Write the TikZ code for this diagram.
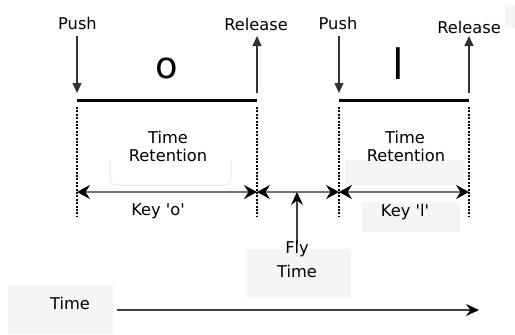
\documentclass[tikz,border=0pt]{standalone}
\usepackage{fontspec}
\setmainfont{DejaVu Sans}[Ligatures=TeXOff]
\usetikzlibrary{arrows.meta}
\begin{document}
\begin{tikzpicture}[x=1bp,y=-1bp,
  lbl/.style={font=\fontsize{16.3}{18}\selectfont, inner sep=0pt, anchor=base},
  keyglyph/.style={font=\fontsize{#1}{#1}\selectfont, inner sep=0pt, anchor=base},
  ghost/.style={fill=black!4, draw=none},
  bar/.style={line width=3bp},
  guide/.style={line width=2.2bp, dash pattern=on 2bp off 1.4bp},
  span/.style={draw=black!55, line width=1.5bp,
    {Stealth[length=13bp,width=14bp,inset=4.5bp,black]}-{Stealth[length=13bp,width=14bp,inset=4.5bp,black]}},
  event/.style={draw=black!80, line width=1.3bp, -{Triangle[length=10bp,width=9bp]}},
  flow/.style={draw=black!75, line width=1.4bp, -{Stealth[length=13bp,width=12bp,inset=4.5bp,black]}},
]
% canvas
\path[fill=white] (0,0) rectangle (515,334);

% faint panels behind some labels
\path[ghost] (345,160) rectangle (465,185);
\path[ghost] (362,202) rectangle (460,232);
\path[ghost] (246,249) rectangle (351,298);
\path[ghost] (8,285) rectangle (113,334);
\path[ghost] (505,5) rectangle (515,28);
\draw[draw=black!5, line width=1.5bp, rounded corners=7bp] (110,160) -- (110,185) -- (231,185) -- (231,160);

% key edges: press / release instants
\coordinate (e1) at (77,100);
\coordinate (e2) at (257,100);
\coordinate (e3) at (339,100);
\coordinate (e4) at (469,100);

% event arrows
\coordinate (p1a) at (77,36);  \coordinate (p1b) at (77,93);
\coordinate (r1a) at (257,93); \coordinate (r1b) at (257,36);
\coordinate (p2a) at (339,36); \coordinate (p2b) at (339,93);
\coordinate (r2a) at (469,93); \coordinate (r2b) at (469,36);
\draw[event] (p1a) -- (p1b);
\draw[event] (r1a) -- (r1b);
\draw[event] (p2a) -- (p2b);
\draw[event] (r2a) -- (r2b);

% key-held bars
\draw[bar] (e1) -- (e2);
\draw[bar] (e3) -- (e4);

% dotted guides
\foreach \n/\x in {g1/77,g2/257,g3/339,g4/469}{
  \coordinate (\n t) at (\x,107);
  \coordinate (\n b) at (\x,217);
  \coordinate (\n m) at (\x,192);
  \draw[guide] (\n t) -- (\n b);
}

% spans
\draw[span] (g1m) -- (g2m);
\draw[span] (g2m) -- (g3m);
\draw[span] (g3m) -- (g4m);

% fly-time pointer
\coordinate (flytip) at (297,192);
\coordinate (flyfoot) at (297,244);
\draw[flow] (flyfoot) -- (flytip);

% time axis
\coordinate (t0) at (117,310);
\coordinate (t1) at (479,310);
\draw[flow] (t0) -- (t1);

% labels
\node[lbl] (push1) at (77.5,29.5) {Push};
\node[lbl] (rel1) at (256,30) {Release};
\node[lbl] (push2) at (338,29.5) {Push};
\node[lbl] (rel2) at (469,33) {Release};
\node[keyglyph=37] (ko) at (166.5,78) {o};
\node[keyglyph=42] (kl) at (398,79) {l};
\node[lbl] (tr1a) at (168,143) {Time};
\node[lbl] (tr1b) at (168,161) {Retention};
\node[lbl] (tr2a) at (405,143) {Time};
\node[lbl] (tr2b) at (406,161) {Retention};
\node[lbl] (keyo) at (158,215) {Key 'o'};
\node[lbl] (keyl) at (405,216) {Key 'l'};
\node[lbl] (fly1) at (297,253.5) {Fly};
\node[lbl] (fly2) at (297,277) {Time};
\node[lbl] (axis) at (70,309) {Time};
\end{tikzpicture}
\end{document}
